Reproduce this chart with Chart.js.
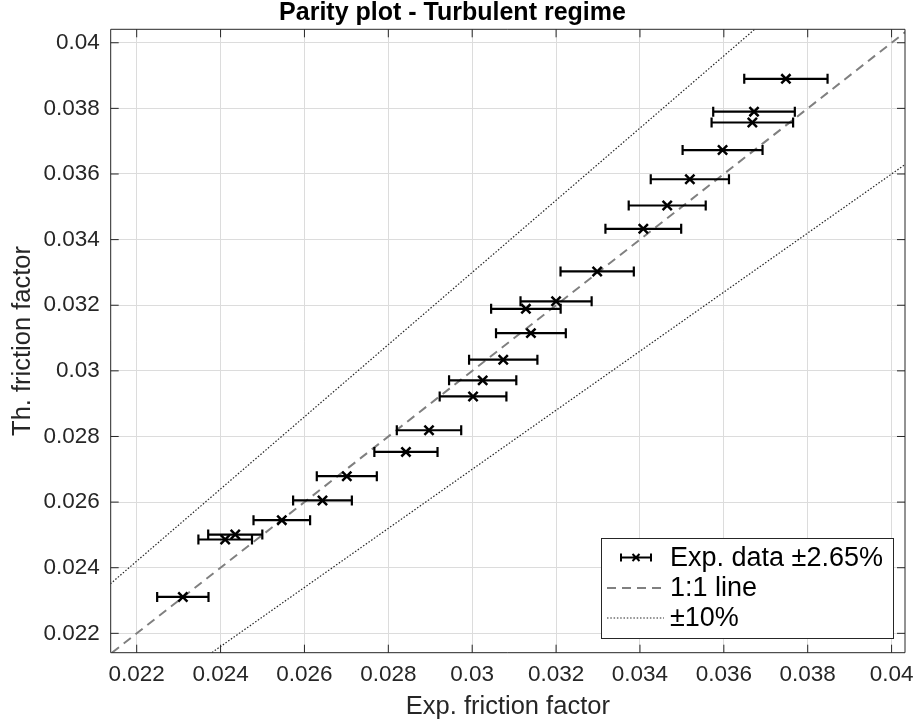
<!DOCTYPE html>
<html><head><meta charset="utf-8">
<script src="https://cdn.jsdelivr.net/npm/chart.js@4.4.0/dist/chart.umd.min.js"></script>
<style>html,body{margin:0;padding:0;background:#fff;} #wrap{width:916px;height:724px;}</style>
</head><body><div id="wrap"><canvas id="c" width="916" height="724"></canvas></div>
<script>
// ---- data ----
const expFriction = [0.03748, 0.03672, 0.03668, 0.03597, 0.03519, 0.03465, 0.03408, 0.03298, 0.03200, 0.03128, 0.03140, 0.03074, 0.03025, 0.03002, 0.02897, 0.02842, 0.02701, 0.02643, 0.02546, 0.02435, 0.02411, 0.02310];
const thFriction  = [0.03890, 0.03790, 0.03757, 0.03673, 0.03584, 0.03504, 0.03433, 0.03303, 0.03212, 0.03189, 0.03115, 0.03034, 0.02971, 0.02922, 0.02819, 0.02753, 0.02679, 0.02605, 0.02545, 0.02501, 0.02486, 0.02311];
const errPercent = 2.65;
const xTickValues = [0.022, 0.024, 0.026, 0.028, 0.03, 0.032, 0.034, 0.036, 0.038, 0.04];
const yTickValues = [0.022, 0.024, 0.026, 0.028, 0.03, 0.032, 0.034, 0.036, 0.038, 0.04];
const tickLabels = ['0.022', '0.024', '0.026', '0.028', '0.03', '0.032', '0.034', '0.036', '0.038', '0.04'];
const xLimits = [0.02138, 0.04032];
const yLimits = [0.02141, 0.04041];
const refLineX = [0.02, 0.045];
const bandFactors = [1.1, 0.9];
const legendLabels = ['Exp. data \u00b12.65%', '1:1 line', '\u00b110%'];
const titleText = 'Parity plot - Turbulent regime';
const xTitle = 'Exp. friction factor';
const yTitle = 'Th. friction factor';

const FONT = "'Liberation Sans', Arial, Helvetica, sans-serif";
const AXC = '#262626';

const points = expFriction.map((x, i) => ({x: x, y: thFriction[i]}));
const oneToOne = refLineX.map(x => ({x: x, y: x}));
const upperBand = refLineX.map(x => ({x: x, y: x * bandFactors[0]}));
const lowerBand = refLineX.map(x => ({x: x, y: x * bandFactors[1]}));

function lbl(v, arr, labels) {
  for (let i = 0; i < arr.length; i++) if (Math.abs(arr[i] - v) < 1e-9) return labels[i];
  return '';
}

const errorBarPlugin = {
  id: 'errorBars',
  beforeDatasetDraw(chart, args) {
    if (args.index !== 0) return;
    const xs = chart.scales.x, ys = chart.scales.y, ctx = chart.ctx;
    ctx.save();
    ctx.strokeStyle = '#000';
    ctx.lineWidth = 2.2;
    expFriction.forEach((xv, i) => {
      const e = xv * errPercent / 100;
      const x1 = xs.getPixelForValue(xv - e), x2 = xs.getPixelForValue(xv + e);
      const y = ys.getPixelForValue(thFriction[i]);
      ctx.beginPath();
      ctx.moveTo(x1, y); ctx.lineTo(x2, y);
      ctx.moveTo(x1, y - 5); ctx.lineTo(x1, y + 5);
      ctx.moveTo(x2, y - 5); ctx.lineTo(x2, y + 5);
      ctx.stroke();
    });
    ctx.restore();
  }
};

const framePlugin = {
  id: 'frame',
  afterDatasetsDraw(chart) {
    const a = chart.chartArea, ctx = chart.ctx;
    const xs = chart.scales.x, ys = chart.scales.y;
    ctx.save();
    ctx.strokeStyle = AXC;
    ctx.lineWidth = 1;
    ctx.beginPath();
    ctx.rect(a.left, a.top, a.right - a.left, a.bottom - a.top);
    ctx.stroke();
    const L = 8;
    ctx.beginPath();
    xTickValues.forEach(v => {
      const p = xs.getPixelForValue(v);
      ctx.moveTo(p, a.bottom); ctx.lineTo(p, a.bottom - L);
      ctx.moveTo(p, a.top); ctx.lineTo(p, a.top + L);
    });
    yTickValues.forEach(v => {
      const p = ys.getPixelForValue(v);
      ctx.moveTo(a.left, p); ctx.lineTo(a.left + L, p);
      ctx.moveTo(a.right, p); ctx.lineTo(a.right - L, p);
    });
    ctx.stroke();
    ctx.restore();
  }
};

const legendPlugin = {
  id: 'customLegend',
  afterDraw(chart) {
    const ctx = chart.ctx;
    const bx = 601, by = 538, bw = 292, bh = 100;
    ctx.save();
    ctx.fillStyle = '#fff';
    ctx.fillRect(bx, by, bw, bh);
    ctx.strokeStyle = AXC;
    ctx.lineWidth = 1;
    ctx.strokeRect(bx + 0.5, by + 0.5, bw, bh);
    const rows = [557.5, 588, 618];
    ctx.strokeStyle = '#000';
    ctx.lineWidth = 2;
    ctx.beginPath();
    ctx.moveTo(621, rows[0]); ctx.lineTo(651, rows[0]);
    ctx.moveTo(621, rows[0] - 4); ctx.lineTo(621, rows[0] + 4);
    ctx.moveTo(651, rows[0] - 4); ctx.lineTo(651, rows[0] + 4);
    ctx.moveTo(632.5, rows[0] - 3.5); ctx.lineTo(639.5, rows[0] + 3.5);
    ctx.moveTo(632.5, rows[0] + 3.5); ctx.lineTo(639.5, rows[0] - 3.5);
    ctx.stroke();
    ctx.strokeStyle = '#808080';
    ctx.lineWidth = 2;
    ctx.setLineDash([9, 6]);
    ctx.beginPath(); ctx.moveTo(607, rows[1]); ctx.lineTo(664, rows[1]); ctx.stroke();
    ctx.strokeStyle = '#262626';
    ctx.lineWidth = 1.2;
    ctx.setLineDash([1.5, 1.8]);
    ctx.beginPath(); ctx.moveTo(607, rows[2]); ctx.lineTo(664, rows[2]); ctx.stroke();
    ctx.setLineDash([]);
    ctx.fillStyle = '#000';
    ctx.font = '27px ' + FONT;
    ctx.textBaseline = 'middle';
    ctx.textAlign = 'left';
    legendLabels.forEach((t, i) => ctx.fillText(t, 670, rows[i] + 1));
    ctx.restore();
  }
};

new Chart(document.getElementById('c'), {
  type: 'scatter',
  data: {
    datasets: [
      {label: legendLabels[0], data: points, pointStyle: 'crossRot', pointRadius: 6.5, pointHoverRadius: 6.5,
       borderColor: '#000', backgroundColor: '#000', pointBorderWidth: 2.5, showLine: false},
      {label: legendLabels[1], data: oneToOne, type: 'line', showLine: true, pointRadius: 0,
       borderColor: '#808080', borderWidth: 2, borderDash: [9, 6], clip: 0},
      {label: legendLabels[2], data: upperBand, type: 'line', showLine: true, pointRadius: 0,
       borderColor: '#262626', borderWidth: 1.2, borderDash: [1.5, 1.8], clip: 0},
      {label: legendLabels[2], data: lowerBand, type: 'line', showLine: true, pointRadius: 0,
       borderColor: '#262626', borderWidth: 1.2, borderDash: [1.5, 1.8], clip: 0}
    ]
  },
  options: {
    responsive: false,
    animation: false,
    events: [],
    layout: {padding: {left: 0, right: 11, top: 0, bottom: 0}},
    plugins: {
      legend: {display: false},
      tooltip: {enabled: false},
      title: {display: true, text: titleText, color: '#000',
              font: {family: FONT, size: 25, weight: 'bold', lineHeight: 1.0}, padding: {top: 1, bottom: 3.3}}
    },
    scales: {
      x: {
        type: 'linear', min: xLimits[0], max: xLimits[1],
        afterBuildTicks: s => { s.ticks = xTickValues.map(v => ({value: v})); },
        afterFit: s => { s.height = 71.3; s.paddingLeft = 0; s.paddingRight = 0; },
        ticks: {color: AXC, font: {family: FONT, size: 22.5}, padding: 9, maxRotation: 0, autoSkip: false,
                callback: v => lbl(v, xTickValues, tickLabels)},
        grid: {color: '#dcdcdc', lineWidth: 1, drawTicks: false},
        border: {display: false},
        title: {display: true, text: xTitle, color: AXC, font: {family: FONT, size: 25.5}, padding: {top: 0, bottom: 2}}
      },
      y: {
        type: 'linear', min: yLimits[0], max: yLimits[1],
        afterBuildTicks: s => { s.ticks = yTickValues.map(v => ({value: v})); },
        afterFit: s => { s.width = 110.7; s.paddingTop = 0; s.paddingBottom = 0; },
        ticks: {color: AXC, font: {family: FONT, size: 22.5}, padding: 11, autoSkip: false,
                callback: v => lbl(v, yTickValues, tickLabels)},
        grid: {color: '#dcdcdc', lineWidth: 1, drawTicks: false},
        border: {display: false},
        title: {display: true, text: yTitle, color: AXC, font: {family: FONT, size: 25.5}, padding: {top: 8, bottom: 0}}
      }
    }
  },
  plugins: [errorBarPlugin, framePlugin, legendPlugin]
});
</script>
</body></html>
